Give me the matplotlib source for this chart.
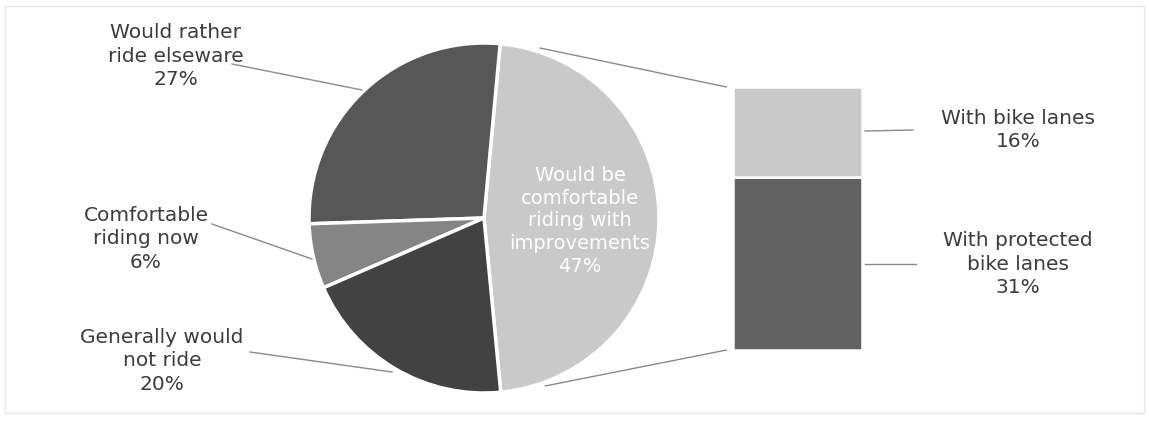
import matplotlib
matplotlib.use("Agg")
import matplotlib.pyplot as plt
from matplotlib.patches import Rectangle, ConnectionPatch

# ---- data ----
pie_labels = ["Would be\ncomfortable\nriding with\nimprovements", "Would rather\nride elseware",
              "Comfortable\nriding now", "Generally would\nnot ride"]
pie_values = [47, 27, 6, 20]
bar_labels = ["With protected\nbike lanes", "With bike lanes"]
bar_values = [31, 16]

# ---- style ----
pie_colors = ["#c9c9c9", "#575757", "#858585", "#424242"]
bar_colors = ["#626262", "#c9c9c9"]
txt = "#3c3c3c"
plt.rcParams['font.family'] = ['DejaVu Sans']

W, H = 1149, 421
fig = plt.figure(figsize=(W / 100, H / 100), dpi=100)
ax = fig.add_axes([0, 0, 1, 1])

cx, cy, R = 484, H - 218, 175
wedges, _ = ax.pie(pie_values, colors=pie_colors, startangle=-84.5, counterclock=True,
                   center=(cx, cy), radius=R, frame=True,
                   wedgeprops=dict(edgecolor="white", linewidth=2.5))
ax.set_xlim(0, W)
ax.set_ylim(0, H)
ax.set_aspect("auto")
ax.axis("off")

# frame border
ax.add_patch(Rectangle((5, 8), W - 10, H - 14, fill=False, edgecolor="#e6e6e6", lw=1.0))

fs = 14.5
# inside label
ax.text(580, H - 221, f"{pie_labels[0]}\n{pie_values[0]}%", color="white", ha="center",
        va="center", fontsize=14, linespacing=1.25)

# outside labels with leaders
outs = [
    (1, (176, H - 56), (232, H - 64), (362, H - 90)),
    (2, (146, H - 239), (212, H - 224), (312, H - 259)),
    (3, (162, H - 361), (250, H - 352), (392, H - 372)),
]
for i, pos, p0, p1 in outs:
    ax.text(pos[0], pos[1], f"{pie_labels[i]}\n{pie_values[i]}%", color=txt, ha="center",
            va="center", fontsize=fs, linespacing=1.3)
    ax.plot([p0[0], p1[0]], [p0[1], p1[1]], color="#8a8a8a", lw=1.0)

# bar of pie
bx0, bx1, by_top, by_bot = 733, 862, 87, 350
bax = fig.add_axes([bx0 / W, (H - by_bot) / H, (bx1 - bx0) / W, (by_bot - by_top) / H])
bottom = 0
for v, c in zip(bar_values, bar_colors):
    bax.bar(0, v, bottom=bottom, width=1.0, color=c, edgecolor="white", linewidth=1.8)
    bottom += v
bax.set_xlim(-0.5, 0.5)
bax.set_ylim(0, sum(bar_values))
bax.axis("off")

# connector lines
for (xa, ya), yb in [((540, H - 48), sum(bar_values)), ((545, H - 386), 0)]:
    con = ConnectionPatch(xyA=(xa, ya), coordsA=ax.transData, xyB=(-0.55, yb),
                          coordsB=bax.transData, color="#8a8a8a", lw=1.0)
    fig.add_artist(con)

# bar labels
ax.text(1018, H - 130, f"{bar_labels[1]}\n{bar_values[1]}%", color=txt, ha="center",
        va="center", fontsize=fs, linespacing=1.3)
ax.plot([865, 913], [H - 131, H - 130], color="#8a8a8a", lw=1.0)
ax.text(1018, H - 264, f"{bar_labels[0]}\n{bar_values[0]}%", color=txt, ha="center",
        va="center", fontsize=fs, linespacing=1.3)
ax.plot([865, 916], [H - 264, H - 264], color="#8a8a8a", lw=1.0)

fig.savefig("out.png", dpi=100, facecolor="white")
